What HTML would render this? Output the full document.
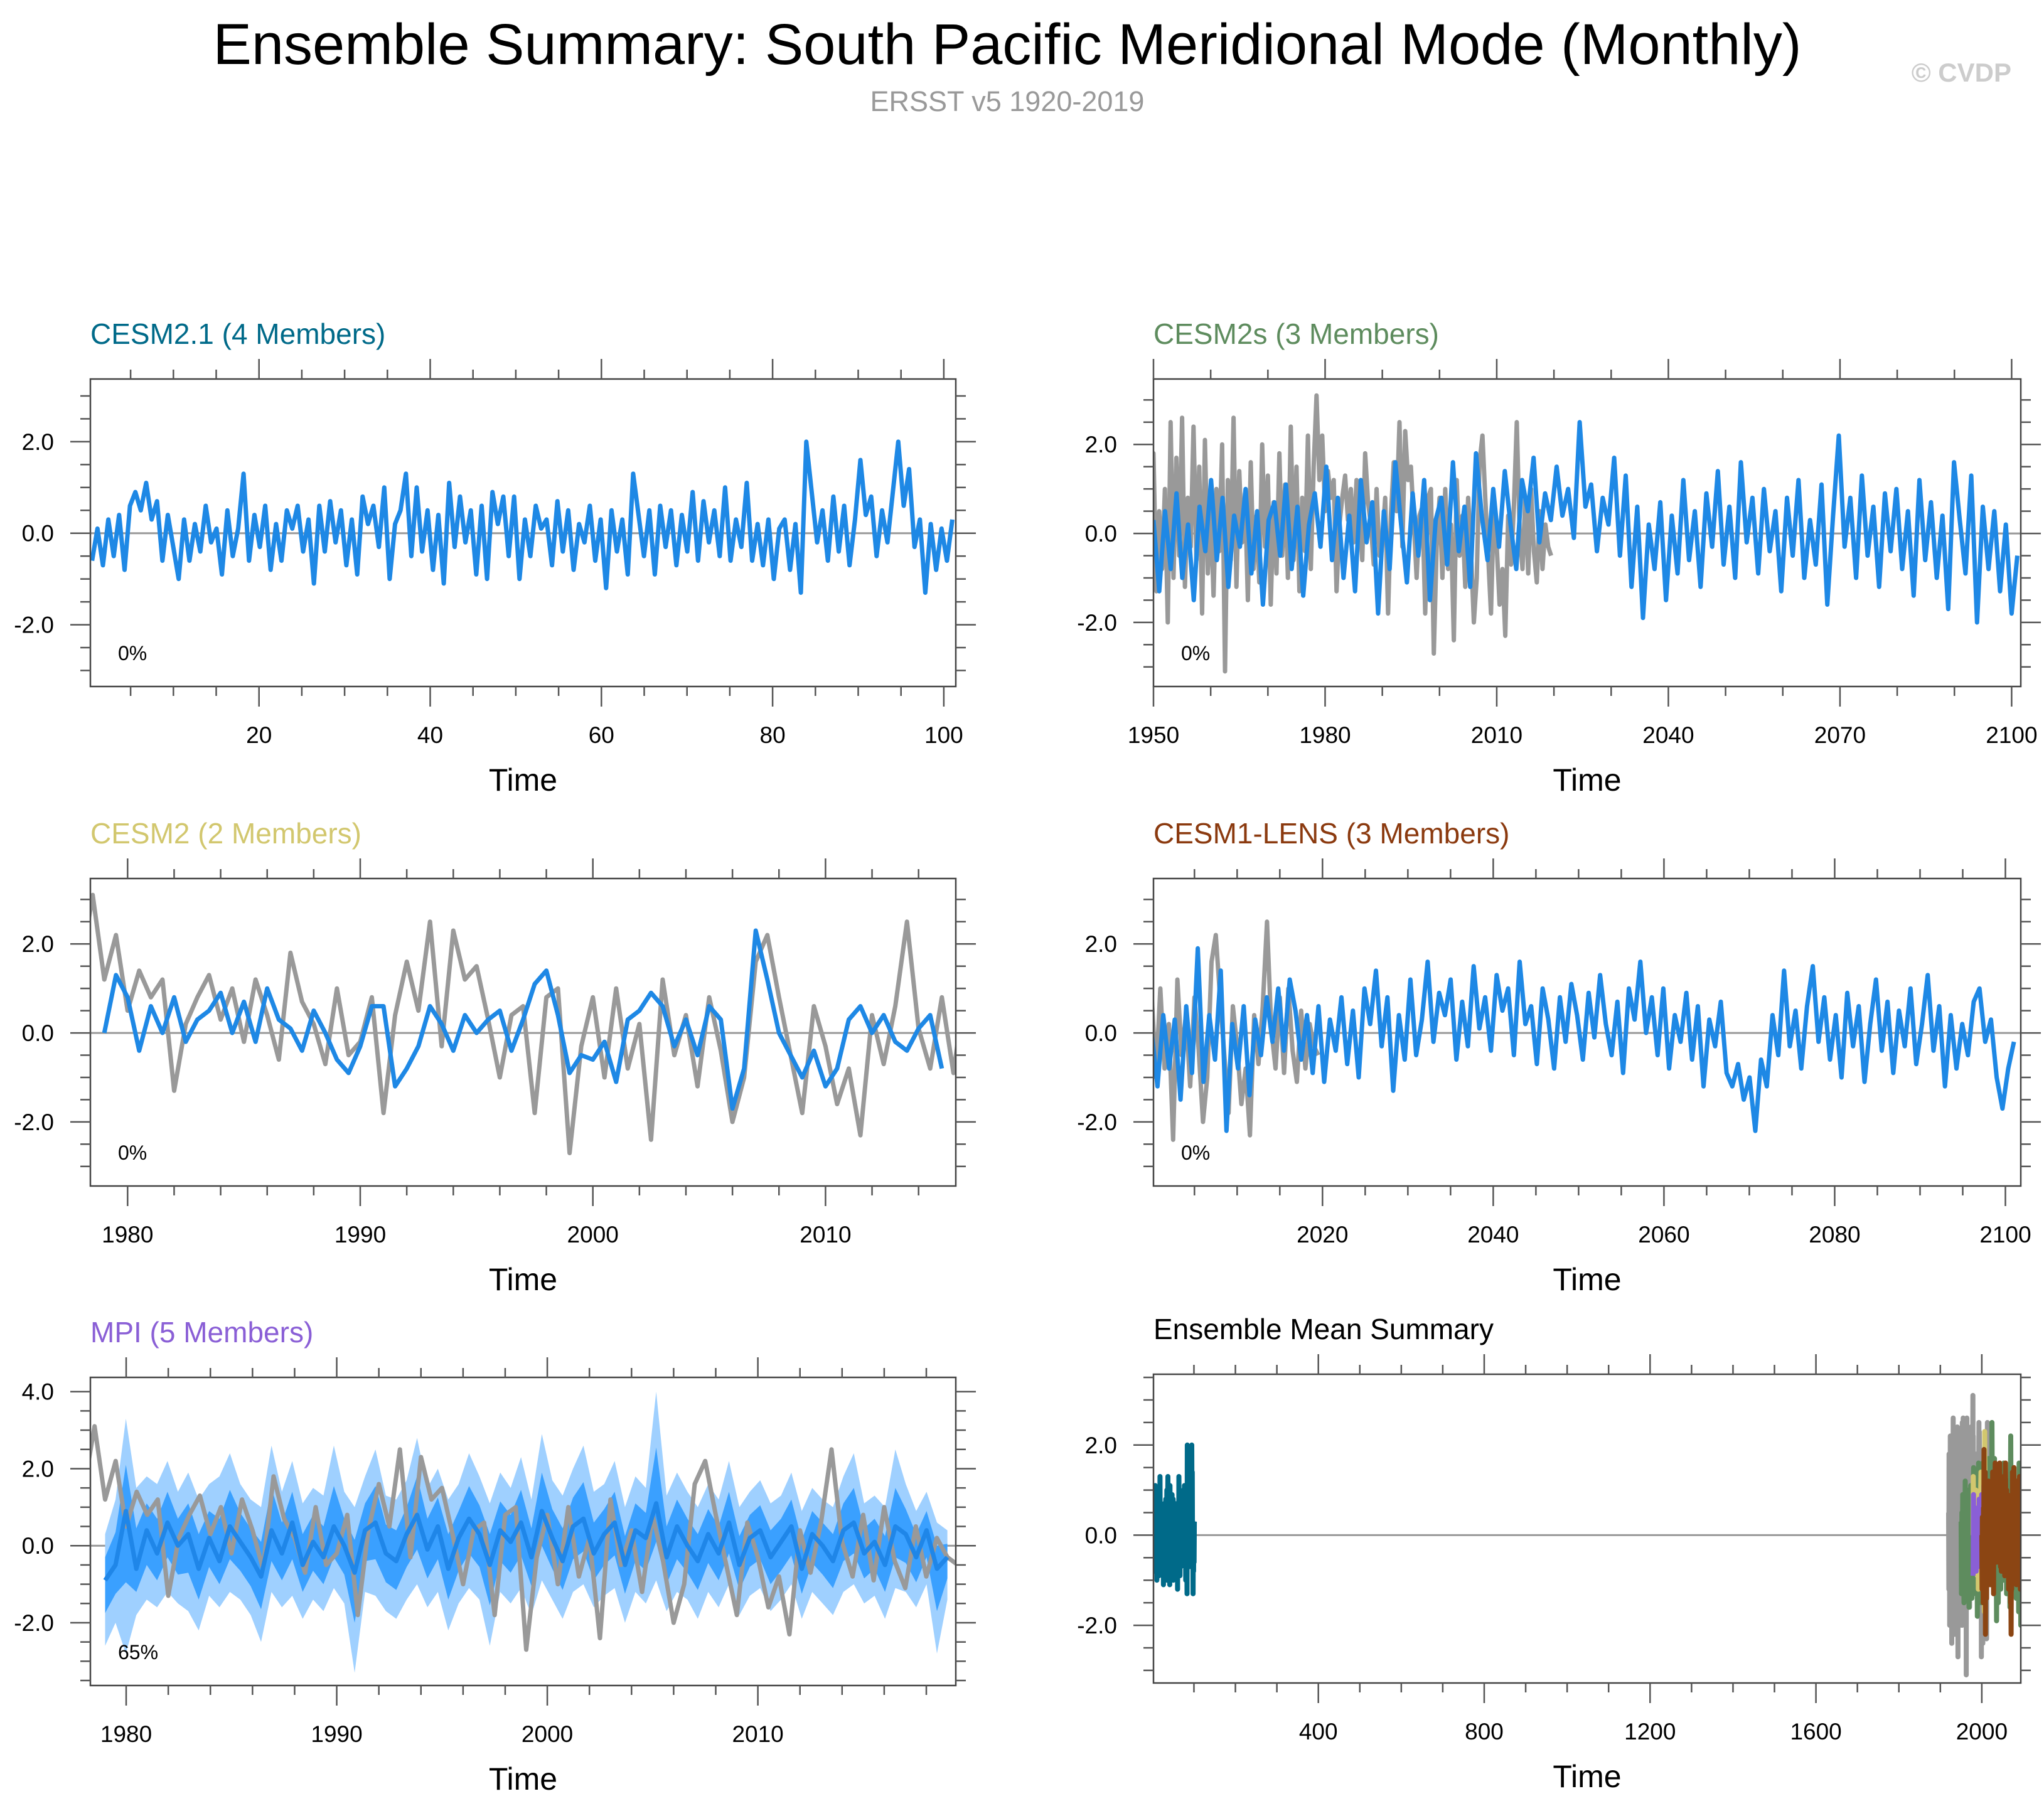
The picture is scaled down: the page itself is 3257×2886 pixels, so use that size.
<!DOCTYPE html>
<html><head><meta charset="utf-8">
<style>
html,body{margin:0;padding:0;background:#fff;}
body{width:3257px;height:2881px;overflow:hidden;font-family:"Liberation Sans",sans-serif;}
svg text{font-family:"Liberation Sans",sans-serif;}
</style></head>
<body>
<svg id="chart" width="3257" height="2881" viewBox="0 0 3257 2881" xmlns="http://www.w3.org/2000/svg">
<rect width="3257" height="2881" fill="#fff"/>
<text x="1605" y="102" font-size="92" text-anchor="middle" fill="#000">Ensemble Summary: South Pacific Meridional Mode (Monthly)</text>
<text x="1605" y="177" font-size="45" text-anchor="middle" fill="#999">ERSST v5 1920-2019</text>
<text x="3205" y="130" font-size="42" font-weight="bold" text-anchor="end" fill="#ccc">© CVDP</text>
<g id="panels"></g>
</svg>
<script>
// ---- data ----
const cesm21Mean = [-0.6,0.1,-0.7,0.3,-0.5,0.4,-0.8,0.6,0.9,0.5,1.1,0.3,0.7,-0.6,0.4,-0.3,-1.0,0.3,-0.6,0.2,-0.4,0.6,-0.2,0.1,-0.9,0.5,-0.5,0.1,1.3,-0.6,0.4,-0.3,0.6,-0.8,0.2,-0.6,0.5,0.1,0.6,-0.4,0.3,-1.1,0.6,-0.4,0.7,-0.2,0.5,-0.7,0.3,-0.9,0.8,0.2,0.6,-0.3,1.0,-1.0,0.2,0.5,1.3,-0.5,1.0,-0.4,0.5,-0.8,0.4,-1.1,1.1,-0.3,0.8,-0.2,0.5,-0.9,0.6,-1.0,0.9,0.2,0.8,-0.5,0.8,-1.0,0.3,-0.5,0.6,0.1,0.3,-0.7,0.7,-0.4,0.5,-0.8,0.2,-0.2,0.6,-0.6,0.3,-1.2,0.5,-0.4,0.3,-0.9,1.3,0.4,-0.5,0.5,-0.9,0.6,-0.3,0.5,-0.7,0.4,-0.4,0.9,-0.6,0.7,-0.2,0.5,-0.5,1.0,-0.6,0.3,-0.3,1.1,-0.6,0.2,-0.7,0.3,-1.0,0.1,0.3,-0.8,0.2,-1.3,2.0,0.9,-0.2,0.5,-0.6,0.8,-0.4,0.6,-0.7,0.3,1.6,0.4,0.8,-0.5,0.5,-0.2,0.9,2.0,0.6,1.4,-0.3,0.3,-1.3,0.2,-0.8,0.1,-0.6,0.3];
const cesm2sMean = [0.3,-1.3,0.5,-0.8,0.9,-1.0,0.2,-1.5,0.6,-0.4,1.2,-0.6,0.8,-1.2,0.4,-0.3,1.0,-0.9,0.5,-1.6,0.3,0.7,-0.5,1.1,-0.8,0.6,-1.4,0.2,0.9,-0.3,1.5,-0.6,0.8,-1.0,0.4,-1.3,1.2,-0.2,0.7,-1.8,0.5,-0.8,1.6,0.2,-1.1,0.9,-0.5,1.2,-1.5,0.3,0.8,-0.7,1.6,-0.4,0.6,-1.2,1.8,0.4,-0.6,1.0,-0.3,1.4,0.2,-0.8,1.2,0.5,1.7,-0.2,0.9,0.3,1.5,0.4,1.0,-0.1,2.5,0.6,1.1,-0.4,0.8,0.2,1.7,-0.5,1.3,-1.2,0.6,-1.9,0.2,-0.8,0.7,-1.5,0.4,-0.9,1.2,-0.6,0.5,-1.2,0.9,-0.3,1.4,-0.7,0.6,-1.0,1.6,-0.2,0.8,-0.9,1.0,-0.4,0.5,-1.3,0.8,-0.5,1.2,-1.0,0.3,-0.7,1.1,-1.6,0.4,2.2,-0.3,0.8,-1.0,1.3,-0.5,0.6,-1.2,0.9,-0.4,1.0,-0.8,0.5,-1.4,1.2,-0.6,0.7,-1.0,0.4,-1.7,1.6,0.3,-0.9,1.3,-2.0,0.6,-0.8,0.5,-1.3,0.2,-1.8,-0.5];
const cesm2Mean = [0.0,1.3,0.8,-0.4,0.6,0.0,0.8,-0.2,0.3,0.5,0.9,0.0,0.7,-0.2,1.0,0.3,0.1,-0.4,0.5,0.0,-0.6,-0.9,-0.3,0.6,0.6,-1.2,-0.8,-0.3,0.6,0.2,-0.4,0.4,0.0,0.3,0.5,-0.4,0.3,1.1,1.4,0.4,-0.9,-0.5,-0.6,-0.2,-1.1,0.3,0.5,0.9,0.6,-0.3,0.3,-0.5,0.6,0.3,-1.7,-0.8,2.3,1.2,0.0,-0.5,-1.0,-0.4,-1.2,-0.8,0.3,0.6,0.0,0.4,-0.2,-0.4,0.1,0.4,-0.8];
const cesm1Mean = [0.0,-1.2,0.4,-0.8,0.3,-1.5,0.6,-0.9,1.9,-1.1,0.4,-0.6,1.4,-2.2,0.2,-0.8,0.6,-1.4,0.3,-0.5,0.8,-0.2,1.0,-0.4,1.2,0.5,-0.6,0.4,-0.9,0.6,-1.1,0.3,-0.4,0.8,-0.7,0.5,-1.0,1.0,0.2,1.4,-0.3,0.8,-1.3,0.4,-0.6,1.2,-0.5,0.3,1.6,-0.2,0.9,0.4,1.2,-0.6,0.7,-0.3,1.5,0.1,0.8,-0.4,1.3,0.5,1.0,-0.5,1.6,0.2,0.6,-0.7,1.0,0.3,-0.8,0.8,-0.2,1.1,0.4,-0.6,0.9,-0.1,1.3,0.2,-0.5,0.7,-0.9,1.0,0.3,1.6,0.0,0.8,-0.5,1.0,-0.8,0.4,-0.2,0.9,-0.6,0.6,-1.2,0.3,-0.3,0.7,-0.9,-1.2,-0.7,-1.5,-1.0,-2.2,-0.6,-1.2,0.4,-0.5,1.4,-0.3,0.5,-0.8,0.6,1.5,-0.2,0.8,-0.6,0.4,-1.0,0.9,-0.3,0.6,-1.1,0.2,1.2,-0.4,0.7,-0.9,0.5,-0.3,1.0,-0.7,0.2,1.3,-0.4,0.6,-1.2,0.4,-0.8,0.2,-0.5,0.7,1.0,-0.2,0.3,-1.0,-1.7,-0.8,-0.2];
const obsERSST = [0.5,-1.2,1.8,-0.6,0.9,-2.0,1.3,-0.4,2.2,-1.0,0.6,-1.6,1.5,-0.3,0.8,-2.4,1.0,-0.7,1.9,-1.3,0.4,-0.9,2.6,-0.5,1.2,-1.8,0.7,-1.1,1.6,-0.2,0.9,-2.2,1.4,-0.6,2.0,-1.4,0.3,-0.8,1.7,-1.9,1.1,-0.4,2.4,-1.0,0.6,-2.7,1.3,-0.5,1.8,-1.2,0.8,-1.7,2.1,-0.3,1.0,-2.0,0.5,-0.9,1.5,-1.1,
1.8,-1.3,0.5,-0.8,1.0,-2.0,2.5,-1.0,1.7,-0.5,2.6,-1.2,0.8,-0.3,2.4,-0.6,1.5,-1.8,2.1,-0.9,0.6,-1.4,1.0,-0.4,2.0,-3.1,1.2,-0.6,2.6,-1.2,1.4,-0.2,0.9,-1.5,1.6,-0.8,0.4,-1.1,2.0,-0.3,1.3,-1.6,0.7,-0.9,1.8,-0.5,1.1,-1.0,2.4,-0.6,1.5,-1.3,0.8,-0.4,2.2,-0.8,
1.5,3.1,1.2,2.2,0.5,1.4,0.8,1.2,-1.3,0.2,0.8,1.3,0.3,1.0,-0.2,1.2,0.4,-0.6,1.8,0.7,0.2,-0.7,1.0,-0.5,-0.2,0.8,-1.8,0.4,1.6,0.5,2.5,-0.3,2.3,1.2,1.5,0.3,-1.0,0.4,0.6,-1.8,0.8,1.0,-2.7,-0.3,0.8,-1.0,1.0,-0.8,0.2,-2.4,1.2,-0.5,0.4,-1.2,0.8,-0.4,-2.0,-1.0,1.6,2.2,0.8,-0.5,-1.8,0.6,-0.3,-1.6,-0.8,-2.3,0.4,-0.7,0.6,2.5,0.1,-0.8,0.8,-0.9,1.0,-0.4,-1.1,0.5,-0.8,0.2,-0.3,-0.5];
const mpiMean = [-0.9,-0.5,0.9,-0.6,0.4,-0.2,0.6,0.0,0.3,-0.6,0.2,-0.4,0.5,0.1,-0.3,-0.8,0.4,-0.2,0.6,-0.5,0.1,-0.3,0.5,0.0,-0.7,0.4,0.6,-0.2,-0.4,0.3,0.8,-0.1,0.5,-0.6,0.2,0.7,0.3,-0.5,0.4,0.1,0.6,-0.3,0.9,0.2,-0.4,0.5,0.7,-0.2,0.3,0.6,-0.5,0.4,0.2,1.1,-0.3,0.5,0.0,-0.4,0.3,-0.2,0.6,-0.5,0.2,0.4,-0.3,0.1,0.5,-0.6,0.3,0.0,-0.4,0.4,0.6,-0.2,0.1,-0.5,0.5,0.3,-0.3,0.4,-0.6,-0.3];
const mpiMax = [0.3,1.2,3.3,1.5,1.8,1.6,2.2,1.4,1.9,1.2,1.6,1.8,2.4,1.6,1.2,1.0,2.6,1.4,2.2,1.1,1.5,1.3,2.6,1.4,1.0,1.8,2.5,1.3,1.2,1.7,2.8,1.5,2.0,1.2,1.6,2.4,1.8,1.1,1.9,1.5,2.3,1.2,2.9,1.7,1.3,2.0,2.6,1.4,1.6,2.2,1.0,1.8,1.5,4.0,1.3,1.9,1.4,1.0,1.6,1.2,2.2,1.0,1.4,1.7,1.1,1.3,1.9,0.9,1.5,1.2,1.0,1.8,2.4,1.1,1.3,1.0,2.5,1.6,0.9,1.4,0.6,0.4];
const mpiMin = [-2.6,-2.0,-2.8,-1.8,-1.4,-1.6,-1.2,-1.5,-1.7,-2.2,-1.3,-1.6,-1.2,-1.4,-1.8,-2.5,-1.2,-1.6,-1.3,-1.9,-1.4,-1.7,-1.1,-1.5,-3.3,-1.2,-1.3,-1.7,-1.9,-1.4,-1.0,-1.6,-1.2,-2.2,-1.5,-1.1,-1.4,-2.6,-1.2,-1.5,-1.1,-1.8,-0.9,-1.4,-1.9,-1.2,-1.0,-1.6,-1.3,-1.1,-2.0,-1.2,-1.5,-0.9,-1.7,-1.2,-1.4,-1.9,-1.2,-1.6,-1.0,-1.8,-1.3,-1.1,-1.7,-1.4,-1.0,-1.9,-1.2,-1.5,-1.8,-1.2,-1.0,-1.5,-1.3,-1.9,-1.1,-1.2,-1.6,-1.0,-2.8,-1.4];
const yTicksStd = [-2, 0, 2];
const yTicksMpi = [-2, 0, 2, 4];
const pctLabels = ["0%", "0%", "0%", "0%", "65%"];

const S = {
  c21:[0.5,101], c2s:[1950,2101], c2:[1979,2015], c1:[2000,2101], obs:[1920,2019.5], mpi:[1979,2019]
};
const BLUE="#1e88e5", GRAY="#999999";

const NS="http://www.w3.org/2000/svg";
const root=document.getElementById('panels');
function mk(tag,attrs,parent){const e=document.createElementNS(NS,tag);for(const k in attrs)e.setAttribute(k,attrs[k]);(parent||root).appendChild(e);return e;}
function fmt(v){return v.toFixed(1);}

function panel(c){
  const g=mk('g',{});
  
  
  const [x0,x1]=c.xr,[y0,y1]=c.yr,{L,R,T,B}=c.box;
  const X=v=>L+(v-x0)/(x1-x0)*(R-L);
  const Y=v=>B-(v-y0)/(y1-y0)*(B-T);
  const clipId='clip-'+c.name;
  const cp=mk('clipPath',{id:clipId},g);
  mk('rect',{x:L,y:T,width:R-L,height:B-T},cp);
  const t=mk('text',{x:L,y:T-56,'font-size':46,fill:c.titleColor},g);
  t.textContent=c.title;
  
  
  const plot=mk('g',{'clip-path':'url(#'+clipId+')'},g);
  const z=mk('line',{x1:L,x2:R,y1:Y(0),y2:Y(0),stroke:'#999','stroke-width':3},plot);
  
  
  (c.bands||[]).forEach(b=>{
    const n=b.hi.length, xs=i=>X(b.span[0]+i*(b.span[1]-b.span[0])/(n-1));
    let d='M'+b.hi.map((v,i)=>xs(i).toFixed(1)+','+Y(v).toFixed(1)).join('L');
    for(let i=n-1;i>=0;i--) d+='L'+xs(i).toFixed(1)+','+Y(b.lo[i]).toFixed(1);
    const p=mk('path',{d:d+'Z',fill:b.color,stroke:'none'},plot);
    
    
  });
  c.series.forEach(s=>{
    const n=s.data.length;
    const d='M'+s.data.map((v,i)=>X(s.span[0]+i*(s.span[1]-s.span[0])/(n-1)).toFixed(1)+','+Y(v).toFixed(1)).join('L');
    const p=mk('path',{d:d,fill:'none',stroke:s.color,'stroke-width':s.w||7,'stroke-linejoin':'round'},plot);
    
    
  });
  const fr=mk('rect',{x:L,y:T,width:R-L,height:B-T,fill:'none',stroke:'#444','stroke-width':2.5},g);
  
  
  const tk=mk('g',{stroke:'#555','stroke-width':2.5},g);
  const ax=mk('g',{},g);
  
  
  for(let v=Math.ceil(x0/c.xMinor)*c.xMinor; v<=x1; v+=c.xMinor){
    const maj=Math.abs(v/c.xMajor-Math.round(v/c.xMajor))<1e-6 && v>0;
    const len=maj?32:15, x=X(v);
    mk('line',{x1:x,x2:x,y1:B,y2:B+len},tk);
    mk('line',{x1:x,x2:x,y1:T,y2:T-len},tk);
    if(maj){const l=mk('text',{x:x,y:B+90,'font-size':37,'text-anchor':'middle',fill:'#000'},ax);l.textContent=String(Math.round(v));}
  }
  const ay=mk('g',{},g);
  
  
  for(let v=Math.ceil(y0/0.5)*0.5; v<=y1; v+=0.5){
    const maj=c.yTicks.some(q=>Math.abs(q-v)<1e-6);
    const len=maj?32:16, y=Y(v);
    mk('line',{x1:L,x2:L-len,y1:y,y2:y},tk);
    mk('line',{x1:R,x2:R+len,y1:y,y2:y},tk);
    if(maj){const l=mk('text',{x:L-58,y:y+13,'font-size':37,'text-anchor':'end',fill:'#000'},ay);l.textContent=fmt(v);}
  }
  const xt=mk('text',{x:(L+R)/2,y:B+166,'font-size':50,'text-anchor':'middle',fill:'#000'},g);
  xt.textContent='Time';
  
  
  if(c.pct){const p=mk('text',{x:L+44,y:B-42,'font-size':32,fill:'#000'},g);p.textContent=c.pct;
    
    }
}

const LB={L:144,R:1523}, RB={L:1838,R:3220};
const R1={T:604,B:1094}, R2={T:1400,B:1890}, R3={T:2195,B:2686};
const mpiInnerHi = mpiMean.map((m,i)=>m+0.5*(mpiMax[i]-m));
const mpiInnerLo = mpiMean.map((m,i)=>m+0.5*(mpiMin[i]-m));

panel({name:'panel-cesm2-1',title:'CESM2.1 (4 Members)',titleColor:'#006a89',box:{...LB,...R1},xr:[0.3,101.4],yr:[-3.35,3.37],xMajor:20,xMinor:5,yTicks:yTicksStd,pct:pctLabels[0],
  series:[{name:'cesm2-1-mean-line',data:cesm21Mean,span:S.c21,color:BLUE}]});
panel({name:'panel-cesm2s',title:'CESM2s (3 Members)',titleColor:'#5e8c5e',box:{...RB,...R1},xr:[1950,2101.6],yr:[-3.44,3.47],xMajor:30,xMinor:10,yTicks:yTicksStd,pct:pctLabels[1],
  series:[{name:'obs-line',data:obsERSST,span:S.obs,color:GRAY},{name:'cesm2s-mean-line',data:cesm2sMean,span:S.c2s,color:BLUE}]});
panel({name:'panel-cesm2',title:'CESM2 (2 Members)',titleColor:'#d2c76e',box:{...LB,...R2},xr:[1978.4,2015.6],yr:[-3.44,3.47],xMajor:10,xMinor:2,yTicks:yTicksStd,pct:pctLabels[2],
  series:[{name:'obs-line',data:obsERSST,span:S.obs,color:GRAY},{name:'cesm2-mean-line',data:cesm2Mean,span:S.c2,color:BLUE}]});
panel({name:'panel-cesm1-lens',title:'CESM1-LENS (3 Members)',titleColor:'#8b3a0f',box:{...RB,...R2},xr:[2000.2,2101.8],yr:[-3.44,3.47],xMajor:20,xMinor:5,yTicks:yTicksStd,pct:pctLabels[3],
  series:[{name:'obs-line',data:obsERSST,span:S.obs,color:GRAY},{name:'cesm1-mean-line',data:cesm1Mean,span:S.c1,color:BLUE}]});
panel({name:'panel-mpi',title:'MPI (5 Members)',titleColor:'#8a5fd6',box:{...LB,...R3},xr:[1978.3,2019.4],yr:[-3.63,4.37],xMajor:10,xMinor:2,yTicks:yTicksMpi,pct:pctLabels[4],
  bands:[{hi:mpiMax,lo:mpiMin,span:S.mpi,color:'#9fd0ff'},{hi:mpiInnerHi,lo:mpiInnerLo,span:S.mpi,color:'#3aa0ff'}],
  series:[{name:'obs-line',data:obsERSST,span:S.obs,color:GRAY},{name:'mpi-mean-line',data:mpiMean,span:S.mpi,color:'#1f86e8'}]});
panel({name:'panel-ensemble-mean-summary',title:'Ensemble Mean Summary',titleColor:'#000',box:{...RB,T:2190,B:2682},xr:[2.4,2094],yr:[-3.28,3.57],xMajor:400,xMinor:100,yTicks:yTicksStd,
  series:[{name:'cesm2-1-summary',data:cesm21Mean,span:S.c21,color:'#006a89',w:8},
          {name:'obs-summary',data:obsERSST,span:S.obs,color:GRAY,w:8},
          {name:'cesm2s-summary',data:cesm2sMean,span:S.c2s,color:'#5e8c5e',w:8},
          {name:'cesm2-summary',data:cesm2Mean,span:S.c2,color:'#d2c76e',w:8},
          {name:'mpi-summary',data:mpiMean,span:S.mpi,color:'#8a5fd6',w:8},
          {name:'cesm1-summary',data:cesm1Mean,span:S.c1,color:'#8b4513',w:8}]});
</script>
</body></html>
